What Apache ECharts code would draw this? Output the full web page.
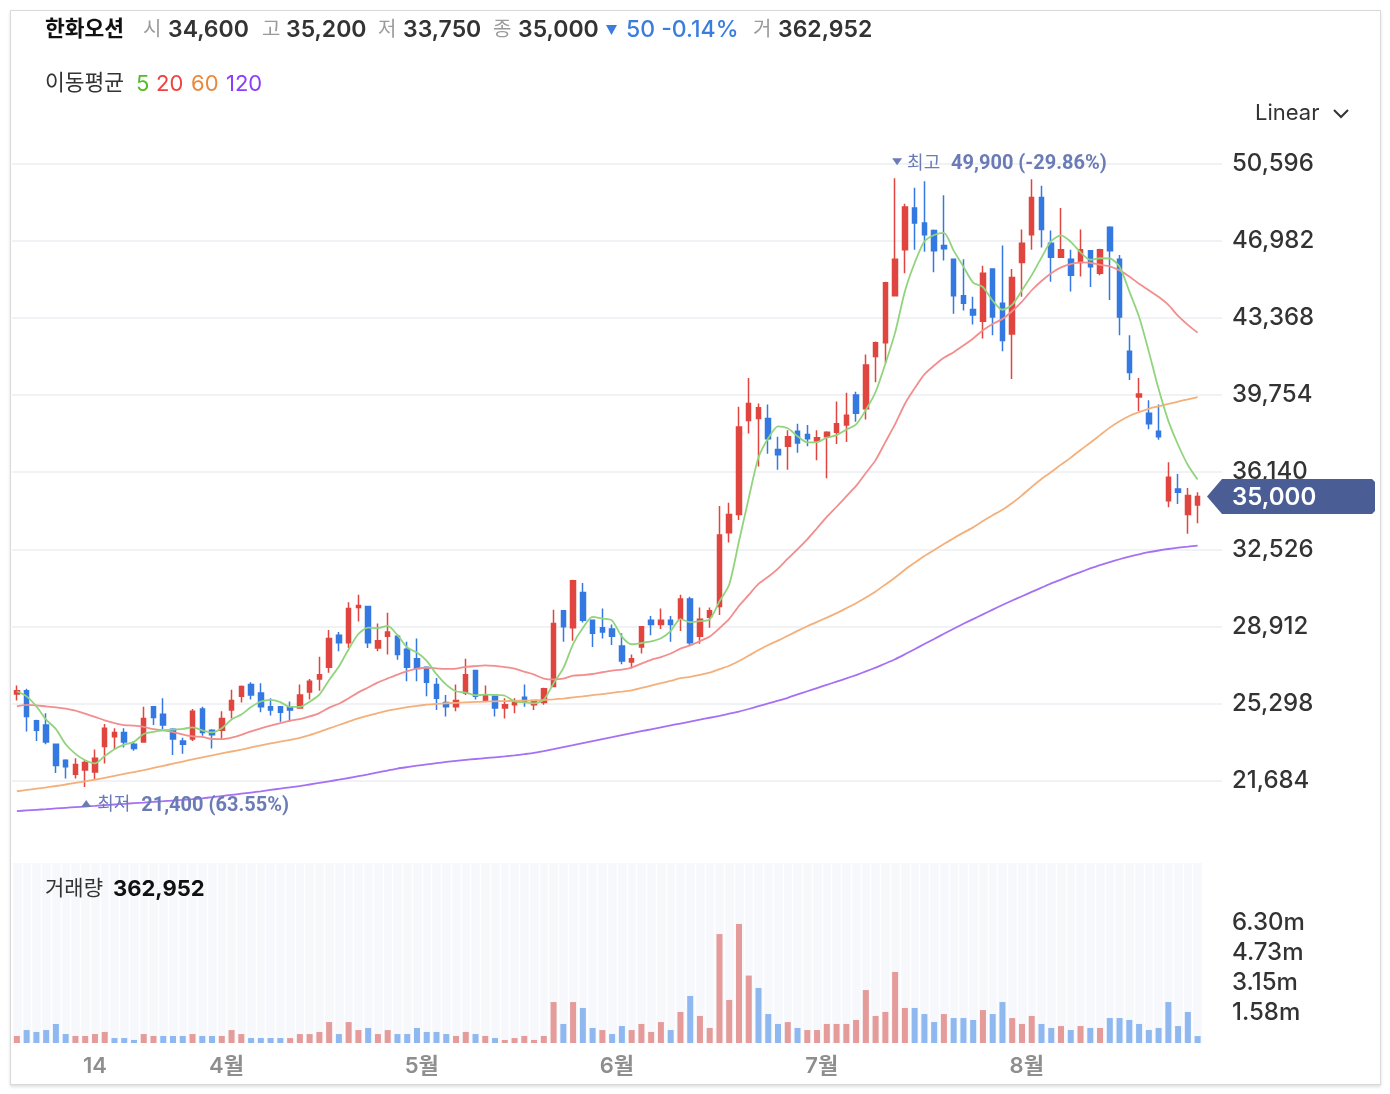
<!DOCTYPE html>
<html lang="ko">
<head>
<meta charset="utf-8">
<title>한화오션</title>
<script src="https://cdn.jsdelivr.net/npm/echarts@6.0.0/dist/echarts.min.js"></script>
<style>
html,body{margin:0;padding:0;background:#fff;}
#card{position:absolute;left:10px;top:10px;width:1369px;height:1073px;border:1px solid #d9d9d9;box-shadow:0 2px 3px rgba(0,0,0,0.13);background:#fff;}
#chart{position:absolute;left:0;top:0;width:1390px;height:1094px;}
</style>
</head>
<body>
<div id="card"></div>
<div id="chart"></div>
<script>
// ---------------- data ----------------
const dates = [
'2023-03-02','2023-03-03','2023-03-06','2023-03-07','2023-03-08','2023-03-09','2023-03-10','2023-03-13','2023-03-14','2023-03-15',
'2023-03-16','2023-03-17','2023-03-20','2023-03-21','2023-03-22','2023-03-23','2023-03-24','2023-03-27','2023-03-28','2023-03-29',
'2023-03-30','2023-03-31','2023-04-03','2023-04-04','2023-04-05','2023-04-06','2023-04-07','2023-04-10','2023-04-11','2023-04-12',
'2023-04-13','2023-04-14','2023-04-17','2023-04-18','2023-04-19','2023-04-20','2023-04-21','2023-04-24','2023-04-25','2023-04-26',
'2023-04-27','2023-04-28','2023-05-02','2023-05-03','2023-05-04','2023-05-08','2023-05-09','2023-05-10','2023-05-11','2023-05-12',
'2023-05-15','2023-05-16','2023-05-17','2023-05-18','2023-05-19','2023-05-22','2023-05-23','2023-05-24','2023-05-25','2023-05-26',
'2023-05-30','2023-05-31','2023-06-01','2023-06-02','2023-06-05','2023-06-07','2023-06-08','2023-06-09','2023-06-12','2023-06-13',
'2023-06-14','2023-06-15','2023-06-16','2023-06-19','2023-06-20','2023-06-21','2023-06-22','2023-06-23','2023-06-26','2023-06-27',
'2023-06-28','2023-06-29','2023-06-30','2023-07-03','2023-07-04','2023-07-05','2023-07-06','2023-07-07','2023-07-10','2023-07-11',
'2023-07-12','2023-07-13','2023-07-14','2023-07-17','2023-07-18','2023-07-19','2023-07-20','2023-07-21','2023-07-24','2023-07-25',
'2023-07-26','2023-07-27','2023-07-28','2023-07-31','2023-08-01','2023-08-02','2023-08-03','2023-08-04','2023-08-07','2023-08-08',
'2023-08-09','2023-08-10','2023-08-11','2023-08-14','2023-08-16','2023-08-17','2023-08-18','2023-08-21','2023-08-22','2023-08-23',
'2023-08-24','2023-08-25'];

const opens = [25750,25900,24500,24300,23400,22650,22000,22200,22100,23300, 23750,23950,23400,23500,25150,24800,24100,23550,23650,25050,
 24050,24050,25000,25650,26200,25800,25150,25150,25150,25100, 25850,26450,27000,28500,28150,29800,29850,27900,28450,28450,
 27850,27400,27000,26200,25350,25150,25800,26850,25450,25650, 25100,25250,25600,25250,25350,26100,29650,28850,30500,29200,
 28850,28800,28000,27250,27950,29200,29000,29200,29250,30200, 28450,29350,29850,33300,34150,38550,38650,38650,37200,37350,
 38050,37900,37600,37800,38000,38350,39750,39100,41550,42200, 44400,46550,48500,47800,47450,46750,46100,44400,43750,43200,
 45650,44050,42600,45950,47250,49000,46850,46200,46100,45950, 46500,45450,47600,46100,41800,39650,38900,38050,34800,35350,
 34150,34600];
const closes = [25900,24700,24050,23500,22400,22350,22450,22550,22750,24150, 23950,23500,23200,24600,24650,24300,23650,23400,24950,23950,
 23850,24600,25450,26100,25700,25150,25000,24900,25000,25700, 26350,26650,28350,28150,29750,29900,28150,28250,28650,27600,
 27000,26950,26300,25550,25150,25450,26650,25650,25700,25100, 25250,25350,25400,25450,26000,29050,28900,31050,29200,28600,
 28650,28450,27300,27400,28900,29000,29200,29000,30200,28150, 29250,29650,33200,34150,38250,39350,39150,37700,36950,37800,
 37500,37700,37750,38000,38400,38800,38900,41150,42200,45000, 46100,48550,47800,47250,46500,46600,44400,44050,43500,45450,
 43400,42300,45250,46850,49000,47500,46200,46550,45350,46550, 45750,46550,46500,43400,40800,39800,38400,37800,35900,35200,
 35050,35000];
const lows = [25450,24000,23550,23400,22050,21800,21800,21400,21750,22500, 23150,23250,23100,23500,24300,24100,22900,22950,23550,23800,
 23200,23600,24600,25350,25500,24900,24750,24450,24450,25100, 25500,25900,26750,27750,27900,29150,27900,27750,27600,27350,
 26350,26350,25650,25000,24700,24950,25700,25500,25450,24700, 24600,24850,25150,25000,25250,26100,28200,28250,29100,27950,
 28350,28050,27150,26950,27650,28500,28800,28200,28700,28050, 28100,28850,29450,32850,33900,37950,36400,37000,36250,36250,
 37050,37350,36700,35850,37450,37550,38500,38600,40350,41250, 44400,45450,46550,46450,45500,46050,43550,43700,43050,42400,
 42550,41800,40500,44350,46550,46650,45050,46200,44600,45300, 44800,45350,44200,42550,40450,39000,38150,37650,34500,34650,
 33250,33750];
const highs = [26150,26000,24550,24850,23400,22700,22750,22650,23150,24350, 24150,24150,23550,25150,25150,25550,24150,23700,25050,25150,
 24100,24950,25950,26150,26300,26250,25550,25150,25400,26200, 26450,27500,28750,28650,30050,30400,29850,29050,29550,28550,
 28200,28350,27000,26500,25700,26200,27400,26850,26150,25650, 25550,25550,26200,25450,26050,29700,29650,31100,30950,29200,
 29750,29000,28600,27600,28900,29400,29750,29400,30400,30300, 29800,29800,34550,34700,39200,40550,39350,39300,37800,38100,
 38400,38350,38100,38050,39450,39850,39900,41650,42250,45050, 49900,48700,49450,49750,47500,49100,46100,46100,44350,45800,
 45650,46750,45650,47500,49850,49550,47450,48500,46550,47500, 46500,46600,47650,46300,42550,40550,39500,39300,36600,36050,
 35400,35200];
const volumes = [370000,680000,580000,680000,1000000,470000,370000,370000,470000,580000, 260000,260000,160000,470000,370000,370000,370000,370000,470000,370000,
 370000,370000,680000,470000,260000,260000,260000,260000,260000,470000, 470000,580000,1100000,470000,1100000,680000,790000,470000,680000,470000,
 470000,790000,580000,580000,470000,370000,580000,470000,370000,260000, 160000,260000,370000,160000,370000,2150000,1000000,2150000,1840000,790000,
 680000,470000,890000,680000,1000000,580000,1100000,680000,1630000,2470000, 1420000,790000,5720000,2260000,6250000,3540000,2890000,1520000,1000000,1100000,
 790000,680000,680000,1000000,1000000,1000000,1210000,2780000,1420000,1630000, 3730000,1840000,1840000,1520000,1100000,1520000,1310000,1310000,1210000,1730000,
 1520000,2150000,1310000,1000000,1420000,1000000,790000,890000,680000,890000, 790000,790000,1310000,1310000,1210000,1000000,680000,790000,2150000,890000,
 1630000,362952];

const ma5Head = [25880,25640,25170,24550];
const ma20Head = [25170,25240,25220,25170,25130,25070,24970,24830,24680,24520,24390,24300,24270,24210,24110,24050,23970,23860,23770];
const ma60Head = [21200,21260,21320,21380,21445,21515,21590,21665,21740,21830,21920,22010,22100,22190,22290,22390,22490,22590,22690,22790,
 22880,22970,23060,23150,23250,23350,23440,23520,23600,23700,23830,23980,24140,24300,24460,24610,24740,24860,24970,25060,
 25140,25200,25250,25290,25320,25340,25360,25380,25395,25410,25420,25430,25440,25450,25470,25500,25540,25590,25640];
const ma120 = [20270,20300,20330,20360,20395,20425,20455,20485,20515,20550,20580,20610,20640,20670,20705,20735,20765,20795,20830,
 20870,20920,20975,21030,21085,21140,21195,21260,21325,21385,21440,21515,21590,21665,21740,21820,21905,21990,22080,22170,22260,
 22330,22395,22455,22515,22570,22620,22665,22710,22750,22790,22830,22880,22935,22995,23080,23170,23270,23360,23455,
 23550,23645,23735,23830,23920,24010,24100,24190,24280,24370,24460,24550,24640,24730,24830,24930,
 25050,25180,25310,25440,25575,25730,25880,26030,26180,26330,26480,26640,26810,26990,27180,27380,27610,27850,28090,28330,28570,28810,29040,29260,29480,
 29700,29920,30130,30330,30530,30730,30930,31110,31290,31460,31630,31790,31930,32060,32180,32290,32390,32470,32540,32600,32650,32700];

const priceTicks = {min: 18070, max: 54210, step: 3614};
const volTicks = {min: 0, max: 9450000, step: 1575000};
const xTickDates = ['2023-03-14','2023-04-03','2023-05-02','2023-06-01','2023-07-03','2023-08-01'];
const xTickTexts = ['14','4월','5월','6월','7월','8월'];

// ---------------- chart ----------------
const FONT = "Inter, 'Noto Sans CJK KR', sans-serif";
const MKFONT = "Roboto, 'Noto Sans CJK KR', sans-serif";
const UP = '#e0453f', DOWN = '#3479e1';
const N = dates.length;
const fmt = v => v.toLocaleString('en-US');
const maCalc = (n, head) => closes.map((c, i) => i < n - 1 ? head[i] :
  Math.round(closes.slice(i - n + 1, i + 1).reduce((a, b) => a + b, 0) / n));
const ma5 = maCalc(5, ma5Head), ma20 = maCalc(20, ma20Head), ma60 = maCalc(60, ma60Head);

const candleData = dates.map((d, i) => [opens[i], closes[i], lows[i], highs[i]]);
const volData = volumes.map((v, i) => {
  const up = i === 0 ? closes[0] >= opens[0] : closes[i] >= closes[i - 1];
  return {value: v, itemStyle: {color: up ? '#e49b9a' : '#8fb8f1'}};
});

const chart = echarts.init(document.getElementById('chart'));
const maLine = (name, data, color) => ({
  name, type: 'line', data, xAxisIndex: 0, yAxisIndex: 0, showSymbol: false, smooth: 0.25,
  lineStyle: {color, width: 1.8}, silent: true, z: 3
});

chart.setOption({
  animation: false,
  backgroundColor: 'transparent',
  grid: [
    {left: 12, width: 1210, top: 86.1, height: 772},
    {left: 12, width: 1190.5, top: 863, height: 180, show: true, backgroundColor: '#f6f8fc', borderWidth: 0}
  ],
  xAxis: [
    {type: 'category', gridIndex: 0, data: dates.concat(['', '']), boundaryGap: true,
     axisLine: {show: false}, axisTick: {show: false}, axisLabel: {show: false}, splitLine: {show: false}},
    {type: 'category', gridIndex: 1, data: dates, boundaryGap: true,
     axisLine: {show: false}, axisTick: {show: false},
     splitLine: {show: true, interval: 0, lineStyle: {color: '#ffffff', width: 1.4}},
     axisLabel: {interval: 0, margin: 12, color: '#8e8e8e', fontSize: 22, fontWeight: 600, fontFamily: FONT,
       formatter: (v) => {
         const k = xTickDates.indexOf(v);
         if (k < 0) return '';
         return k === 0 ? xTickTexts[k] : '{m|' + xTickTexts[k] + '}';
       },
       rich: {m: {color: '#8e8e8e', fontSize: 22, fontWeight: 600, fontFamily: FONT, padding: [0, 10, 0, 0]}}
     }}
  ],
  yAxis: [
    {type: 'value', gridIndex: 0, position: 'right', min: priceTicks.min, max: priceTicks.max, interval: priceTicks.step,
     axisLine: {show: false}, axisTick: {show: false},
     axisLabel: {margin: 10, color: '#333', fontSize: 24, fontWeight: 500, fontFamily: FONT,
       showMinLabel: false, showMaxLabel: false, formatter: v => fmt(v)},
     splitLine: {show: true, showMinLine: false, showMaxLine: false, lineStyle: {color: '#f1f2f6', width: 2}}},
    {type: 'value', gridIndex: 1, position: 'right', min: volTicks.min, max: volTicks.max, interval: volTicks.step,
     axisLine: {show: false}, axisTick: {show: false}, splitLine: {show: false},
     axisLabel: {margin: 29.5, color: '#333', fontSize: 24, fontWeight: 500, fontFamily: FONT,
       formatter: v => (v > 0 && v < 7000000) ? (Math.round(v / 1e4) / 100).toFixed(2) + 'm' : ''}}
  ],
  series: [
    {name: 'price', type: 'candlestick', xAxisIndex: 0, yAxisIndex: 0, data: candleData, barWidth: 5,
     itemStyle: {color: UP, color0: DOWN, borderColor: UP, borderColor0: DOWN, borderWidth: 1.5}, z: 2},
    maLine('MA120', ma120, '#a570f4'),
    maLine('MA60', ma60, '#f4b07b'),
    maLine('MA20', ma20, '#f28e8e'),
    maLine('MA5', ma5, '#92d47e'),
    {name: 'volume', type: 'bar', xAxisIndex: 1, yAxisIndex: 1, data: volData, barWidth: 6}
  ]
});

// ---------------- overlay texts ----------------
const T = (text, x, y, size, color, weight, family) => ({
  type: 'text', x, y, z: 100,
  style: {text, fill: color, fontSize: size, fontWeight: weight || 'normal', fontFamily: family || FONT,
          align: 'left', verticalAlign: 'middle'}
});
const L = N - 1;
const chg = closes[L] - closes[L - 1];
const pct = (chg / closes[L - 1] * 100).toFixed(2);
const chgColor = chg < 0 ? '#3b7ddd' : '#e0453f';
const g = [];
// header
g.push(T('한화오션', 45, 30, 21.5, '#111', 'bold'));
const hdr = [['시', 143, opens[L], 168], ['고', 262, highs[L], 286], ['저', 378, lows[L], 403], ['종', 493, closes[L], 518]];
hdr.forEach(h => { g.push(T(h[0], h[1], 30, 20, '#9a9a9a')); g.push(T(fmt(h[2]), h[3], 30, 23, '#333', 600)); });
g.push({type: 'polygon', z: 100, shape: {points: chg < 0 ? [[606, 25], [617, 25], [611.5, 35]] : [[606, 35], [617, 35], [611.5, 25]]}, style: {fill: chgColor}});
g.push(T(Math.abs(chg) + ' ' + pct + '%', 626, 30, 23, chgColor, 500));
g.push(T('거', 753, 30, 20, '#9a9a9a'));
g.push(T(fmt(volumes[L]), 778, 30, 23, '#333', 600));
// MA legend
g.push(T('이동평균', 45, 84, 21.5, '#333'));
g.push(T('5', 136, 84, 22, '#52bd25'));
g.push(T('20', 156, 84, 22, '#ee4141'));
g.push(T('60', 191, 84, 22, '#e8883b'));
g.push(T('120', 226, 84, 22, '#8b3efa'));
// Linear selector
g.push(T('Linear', 1255, 113, 22, '#333'));
g.push({type: 'polyline', z: 100, shape: {points: [[1334, 110], [1341, 117], [1348, 110]]}, style: {stroke: '#333', lineWidth: 2, fill: null}});
// volume caption
g.push(T('거래량', 45, 889, 21, '#333'));
g.push(T(fmt(volumes[L]), 113, 889, 22, '#111', 'bold'));

// max / min markers
const hi = Math.max(...highs), hiIdx = highs.indexOf(hi);
const lo = Math.min(...lows), loIdx = lows.indexOf(lo);
const pHi = chart.convertToPixel({gridIndex: 0}, [hiIdx, hi]);
const pLo = chart.convertToPixel({gridIndex: 0}, [loIdx, lo]);
const MK = '#6b7bb5';
const hx = pHi[0] + 2, hy = pHi[1] - 14;
g.push({type: 'polygon', z: 100, shape: {points: [[hx - 5, hy - 6], [hx + 5, hy - 6], [hx, hy + 1]]}, style: {fill: MK}});
g.push(T('최고', hx + 10, hy, 18, MK, 'normal', MKFONT));
g.push(T(fmt(hi) + ' (' + ((closes[L] / hi - 1) * 100).toFixed(2) + '%)', hx + 54, hy, 20, MK, 'bold', MKFONT));
const lx = pLo[0] + 1, ly = pLo[1] + 19;
g.push({type: 'polygon', z: 100, shape: {points: [[lx - 5, ly + 1], [lx + 5, ly + 1], [lx, ly - 6]]}, style: {fill: MK}});
g.push(T('최저', lx + 11, ly, 18, MK, 'normal', MKFONT));
g.push(T(fmt(lo) + ' (' + ((closes[L] / lo - 1) * 100).toFixed(2) + '%)', lx + 55, ly, 20, MK, 'bold', MKFONT));

// last price tag
const py = chart.convertToPixel({yAxisIndex: 0}, closes[L]);
g.push({type: 'polygon', z: 110, shape: {points: [[1207, py], [1222, py - 17.5], [1372, py - 17.5], [1375, py - 14.5], [1375, py + 14.5], [1372, py + 17.5], [1222, py + 17.5]]},
        style: {fill: '#4a5d95'}});
g.push(Object.assign(T(fmt(closes[L]), 1232, py + 1, 24, '#ffffff', 600), {z: 111}));

chart.setOption({graphic: g});
</script>
</body>
</html>
